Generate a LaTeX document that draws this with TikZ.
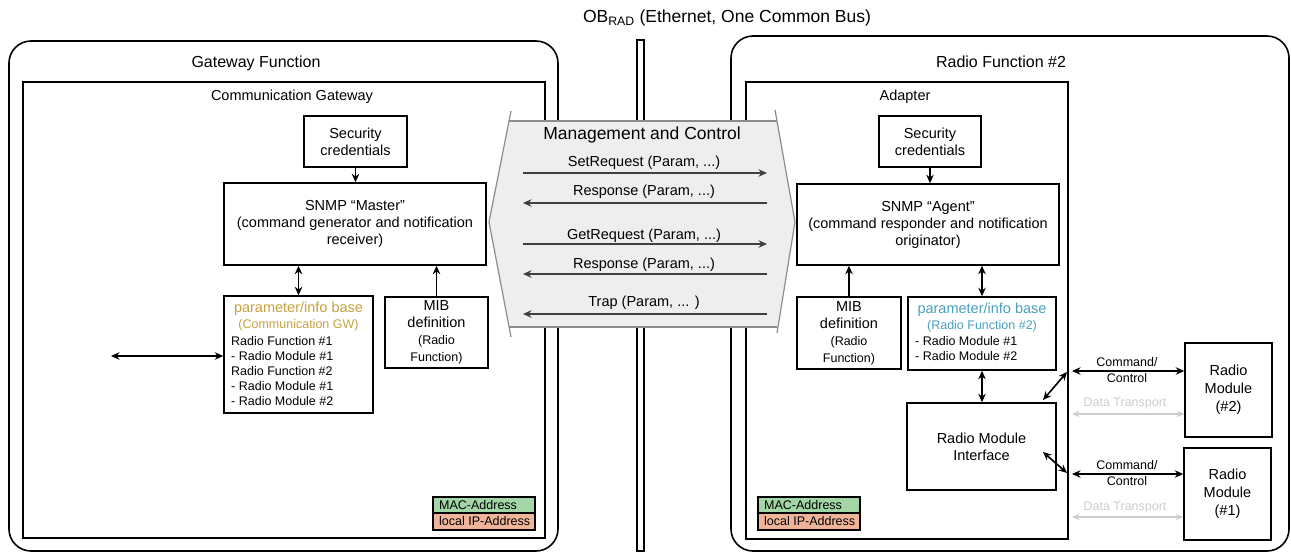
\documentclass[tikz,border=0pt]{standalone}
\usepackage{fontspec}
\setmainfont{Liberation Sans}
\usetikzlibrary{arrows.meta,calc}

\definecolor{goldtxt}{RGB}{200,160,62}
\definecolor{tealtxt}{RGB}{72,160,190}
\definecolor{macgreen}{RGB}{162,214,166}
\definecolor{ipsalmon}{RGB}{240,180,154}
\definecolor{mgmtfill}{RGB}{238,238,238}
\definecolor{mgmtline}{RGB}{140,140,140}
\definecolor{datagray}{RGB}{205,205,205}

\newcommand{\smallsz}{\fontsize{12.5}{16}\selectfont}

\tikzset{
  box/.style={draw=black, line width=1.5pt, inner sep=0pt, align=center,
              font=\fontsize{14.5}{17}\selectfont},
  container/.style={draw=black, line width=1.6pt},
  bodytxt/.style={inner sep=0pt, font=\fontsize{14.5}{17}\selectfont},
  smalltxt/.style={inner sep=0pt, font=\fontsize{12.5}{15}\selectfont},
  headtxt/.style={inner sep=0pt, font=\fontsize{16}{19}\selectfont},
  tip/.tip={Stealth[length=8.5pt,width=7.5pt]},
  arr/.style={line width=1.6pt, -tip},
  darr/.style={line width=1.6pt, tip-tip},
  msg/.style={line width=1.1pt, draw=black!75, -{Stealth[length=8.5pt,width=7.5pt]}},
  datalink/.style={line width=1.2pt, draw=datagray,
                   {Stealth[length=7.5pt,width=6.5pt]}-{Stealth[length=7.5pt,width=6.5pt]}},
  addrbox/.style={draw=black, line width=1.2pt, inner sep=0pt, minimum width=102pt},
}

\begin{document}
\begin{tikzpicture}[x=1pt,y=-1pt]
\useasboundingbox (0,0) rectangle (1291,552);

% bus title
\node[inner sep=0pt, font=\fontsize{17.5}{20}\selectfont] (bustitle) at (727,18)
  {OB\textsubscript{RAD} (Ethernet, One Common Bus)};

% ---------- Gateway Function ----------
\draw[container, rounded corners=22pt] (9,41) rectangle (558,551);
\node[headtxt] (gwfunc) at (256,63) {Gateway Function};
\draw[container] (23,82) rectangle (545,538);
\node[bodytxt] (commgw) at (292,97) {Communication Gateway};

\node[box, minimum width=103pt, minimum height=51pt] (secL) at (355.5,141.5)
  {Security\\credentials};
\node[box, minimum width=262pt, minimum height=82pt] (snmpL) at (355,224)
  {SNMP “Master”\\(command generator and notification\\receiver)};
\node[box, minimum width=149pt, minimum height=117pt] (paramL) at (298.5,354.5) {};
\node[bodytxt, text=goldtxt] (paramLtitle) at (298.5,309) {parameter/info base};
\node[smalltxt, text=goldtxt] (paramLsub) at (298.5,325) {(Communication GW)};
\node[smalltxt, align=left, anchor=north west] (paramLlist) at (231,336.5)
  {Radio Function \#1\\- Radio Module \#1\\Radio Function \#2\\- Radio Module \#1\\- Radio Module \#2};
\node[box, minimum width=103pt, minimum height=71pt] (mibL) at (436.5,332.5)
  {MIB\\definition\\\smallsz(Radio\\\smallsz Function)};

\draw[arr] (secL.south) -- (snmpL.north -| secL.south);
\draw[darr] (paramL.north) -- (paramL.north |- snmpL.south);
\draw[arr] (mibL.north) -- (mibL.north |- snmpL.south);
\coordinate (extL) at (111,356);
\draw[darr] (extL) -- (extL -| paramL.west);

\node[addrbox, minimum height=16pt, fill=macgreen] (macL) at (484,505) {};
\node[addrbox, minimum height=17pt, fill=ipsalmon] (ipL) at (484,521.5) {};
\node[smalltxt, anchor=west] (macLtxt) at (439,505) {MAC-Address};
\node[smalltxt, anchor=west] (ipLtxt) at (439,521.5) {local IP-Address};

% ---------- Radio Function #2 ----------
\draw[container, rounded corners=22pt] (731,36) rectangle (1289,551);
\node[headtxt] (rfunc) at (1001,62) {Radio Function \#2};
\draw[container] (746,82) rectangle (1068,539);
\node[bodytxt] (adapter) at (905,97) {Adapter};

\node[box, minimum width=102pt, minimum height=51pt] (secR) at (930,141.5)
  {Security\\credentials};
\node[box, minimum width=262pt, minimum height=81pt] (snmpR) at (928,224.5)
  {SNMP “Agent”\\(command responder and notification\\originator)};
\node[box, minimum width=104pt, minimum height=72pt] (mibR) at (849,333)
  {MIB\\definition\\\smallsz(Radio\\\smallsz Function)};
\node[box, minimum width=148pt, minimum height=73pt] (paramR) at (982,333.5) {};
\node[bodytxt, text=tealtxt] (paramRtitle) at (982,310) {parameter/info base};
\node[smalltxt, text=tealtxt] (paramRsub) at (982,326) {(Radio Function \#2)};
\node[smalltxt, align=left, anchor=north west] (paramRlist) at (915,336.5)
  {- Radio Module \#1\\- Radio Module \#2};
\node[box, minimum width=149pt, minimum height=87pt] (rmi) at (981.5,446.5)
  {Radio Module\\Interface};

\draw[arr] (secR.south) -- (snmpR.north -| secR.south);
\draw[arr] (mibR.north) -- (mibR.north |- snmpR.south);
\draw[darr] (paramR.north) -- (paramR.north |- snmpR.south);
\draw[darr] (paramR.south) -- (paramR.south |- rmi.north);

\node[addrbox, minimum height=16pt, fill=macgreen] (macR) at (809,505) {};
\node[addrbox, minimum height=17pt, fill=ipsalmon] (ipR) at (809,521.5) {};
\node[smalltxt, anchor=west] (macRtxt) at (764,505) {MAC-Address};
\node[smalltxt, anchor=west] (ipRtxt) at (764,521.5) {local IP-Address};

% radio modules outside the adapter
\node[box, minimum width=87pt, minimum height=94pt, font=\fontsize{14.5}{18}\selectfont]
  (rm2) at (1228.5,390) {Radio\\Module\\(\#2)};
\node[box, minimum width=87pt, minimum height=92pt, font=\fontsize{14.5}{18}\selectfont]
  (rm1) at (1227.5,494) {Radio\\Module\\(\#1)};

\coordinate (d2a) at (1043,400);
\coordinate (d2b) at (1067,372);
\coordinate (d1a) at (1043,452);
\coordinate (d1b) at (1067,473);
\draw[darr] (d2a) -- (d2b);
\draw[darr] (d1a) -- (d1b);

\coordinate (cc2) at (1072,371);
\coordinate (cc1) at (1072,474);
\draw[darr] (cc2) -- (cc2 -| rm2.west);
\draw[darr] (cc1) -- (cc1 -| rm1.west);
\node[smalltxt, align=center] (cc2txt) at (1127,370.5) {Command/\\[1pt]Control};
\node[smalltxt, align=center] (cc1txt) at (1127,473.5) {Command/\\[1pt]Control};

\coordinate (dt2) at (1072,414);
\coordinate (dt1) at (1072,517);
\draw[datalink] (dt2) -- (dt2 -| rm2.west);
\draw[datalink] (dt1) -- (dt1 -| rm1.west);
\node[smalltxt, text=datagray] (dt2txt) at (1125,403) {Data Transport};
\node[smalltxt, text=datagray] (dt1txt) at (1125,507) {Data Transport};

% ---------- common bus ----------
\draw[line width=1.2pt, fill=white] (637,40) rectangle (644,551);

% ---------- management and control exchange ----------
\fill[mgmtfill] (509,121) -- (777,121) -- (795,222) -- (777,327) -- (509,327) -- (489,222) -- cycle;
\draw[mgmtline, line width=1.2pt] (509,121) -- (777,121);
\draw[mgmtline, line width=1.2pt] (509,327) -- (777,327);
\draw[mgmtline, line width=1.2pt] (511,111) -- (489,222) -- (511,337);
\draw[mgmtline, line width=1.2pt] (775,110) -- (795,222) -- (777,333);
\node[inner sep=0pt, font=\fontsize{17.5}{20}\selectfont] (mgmt) at (642,135) {Management and Control};

\coordinate (mL1) at (523,173); \coordinate (mR1) at (767,173);
\coordinate (mL2) at (523,203); \coordinate (mR2) at (767,203);
\coordinate (mL3) at (523,244); \coordinate (mR3) at (767,244);
\coordinate (mL4) at (523,274); \coordinate (mR4) at (767,274);
\coordinate (mL5) at (523,314); \coordinate (mR5) at (767,314);
\draw[msg] (mL1) -- (mR1);
\draw[msg] (mR2) -- (mL2);
\draw[msg] (mL3) -- (mR3);
\draw[msg] (mR4) -- (mL4);
\draw[msg] (mR5) -- (mL5);
\node[bodytxt] (setreq) at (644,163) {SetRequest (Param, ...)};
\node[bodytxt] (resp1) at (644,192) {Response (Param, ...)};
\node[bodytxt] (getreq) at (644,236) {GetRequest (Param, ...)};
\node[bodytxt] (resp2) at (644,265) {Response (Param, ...)};
\node[bodytxt] (trap) at (644,303) {Trap (Param, ... )};
\end{tikzpicture}
\end{document}
